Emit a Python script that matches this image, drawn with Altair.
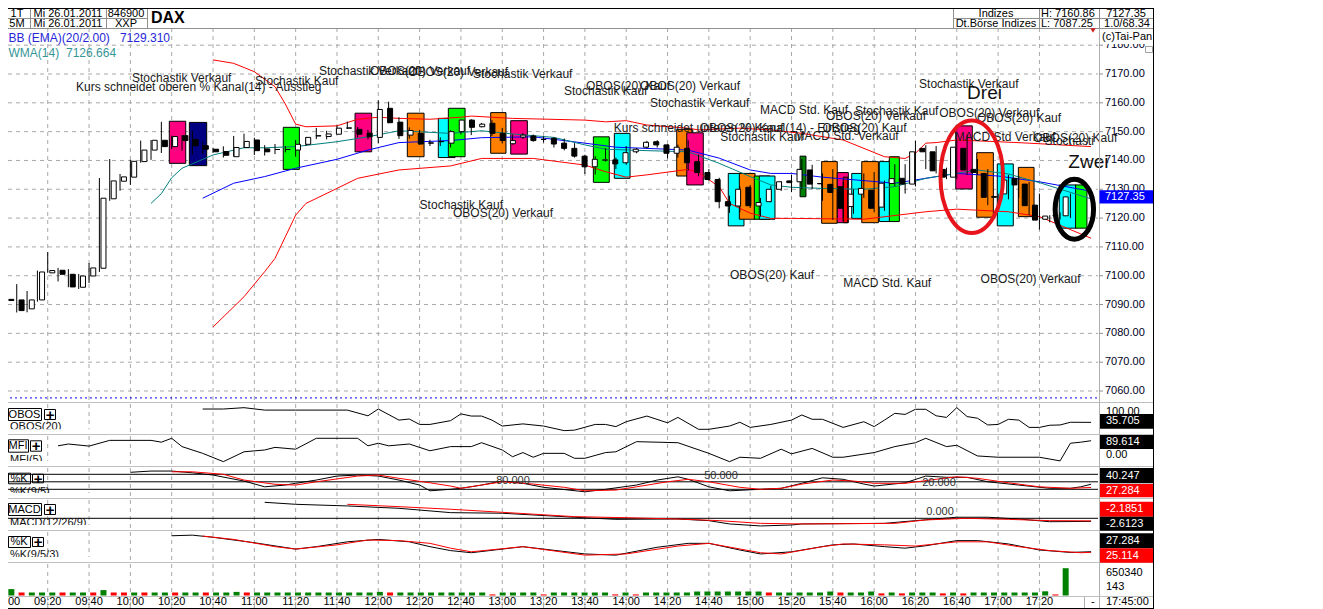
import altair as alt
import pandas as pd

FONT = "Liberation Sans"

# ======================= DATA =======================
# DAX, 5-minute candles, 26.01.2011; bar 0 = 09:00, bar 103 = 17:35
bar_open = [
    7091.8, 7091.6, 7088.5, 7091.6, 7101.0, 7101.9, 7100.5, 7096.0, 7099.9, 7102.6,
    7126.7, 7132.8, 7134.2, 7139.6, 7143.6, 7147.0, 7144.8, 7148.6, 7147.3, 7145.1,
    7143.9, 7143.1, 7141.3, 7144.5, 7147.1, 7144.0, 7143.8, 7143.8, 7143.6, 7145.6,
    7148.5, 7148.3, 7149.1, 7151.2, 7150.8, 7149.5, 7148.0, 7158.1, 7153.3, 7148.8,
    7149.4, 7146.1, 7146.6, 7146.0, 7150.0, 7154.0, 7151.7, 7152.9, 7149.4, 7145.8,
    7148.1, 7148.5, 7147.3, 7147.7, 7146.0, 7144.2, 7141.5, 7137.8, 7140.1, 7140.2,
    7139.2, 7143.0, 7144.6, 7146.5, 7145.4, 7142.5, 7144.2, 7139.6, 7135.8, 7133.4,
    7125.7, 7124.2, 7130.7, 7124.2, 7125.7, 7130.0, 7132.9, 7132.6, 7136.7, 7132.0,
    7131.7, 7130.9, 7124.0, 7128.3, 7129.7, 7123.8, 7132.0, 7133.8, 7131.8, 7144.2,
    7143.0, 7136.9, 7134.2, 7144.2, 7136.9, 7135.5, 7127.2, 7128.4, 7133.8, 7131.8,
    7124.5, 7119.6, 7121.0, 7120.8]
bar_high = [
    7094.4, 7097.1, 7094.7, 7101.8, 7108.2, 7102.7, 7102.3, 7100.6, 7104.4, 7133.9,
    7140.5, 7135.3, 7140.2, 7146.9, 7147.1, 7153.4, 7148.6, 7148.8, 7150.3, 7146.5,
    7144.4, 7144.9, 7148.5, 7149.3, 7147.9, 7145.3, 7145.7, 7145.0, 7147.1, 7148.1,
    7151.3, 7150.3, 7152.1, 7153.5, 7151.6, 7150.6, 7160.86, 7160.4, 7155.0, 7151.5,
    7150.6, 7147.2, 7148.0, 7150.5, 7154.2, 7154.3, 7153.0, 7154.0, 7151.3, 7149.0,
    7149.5, 7149.0, 7148.3, 7148.0, 7147.6, 7146.0, 7142.0, 7141.5, 7144.2, 7141.0,
    7145.0, 7144.3, 7146.8, 7147.0, 7145.6, 7145.5, 7147.0, 7142.0, 7137.0, 7134.0,
    7127.8, 7131.0, 7131.5, 7127.0, 7131.2, 7132.8, 7135.0, 7140.5, 7138.5, 7135.5,
    7137.0, 7132.6, 7130.0, 7135.5, 7136.0, 7133.0, 7138.7, 7138.7, 7146.8, 7145.3,
    7145.0, 7137.5, 7147.0, 7149.0, 7140.5, 7137.0, 7128.5, 7135.0, 7134.6, 7132.5,
    7128.5, 7121.0, 7122.0, 7128.5]
bar_low = [
    7089.2, 7087.25, 7087.3, 7091.0, 7101.0, 7098.0, 7096.0, 7095.4, 7097.5, 7101.3,
    7126.0, 7129.5, 7131.5, 7139.2, 7140.2, 7142.6, 7144.0, 7143.4, 7142.0, 7142.3,
    7142.6, 7141.0, 7141.3, 7144.3, 7141.9, 7141.7, 7142.2, 7142.8, 7141.3, 7145.0,
    7147.4, 7147.3, 7149.1, 7150.9, 7148.0, 7147.3, 7146.0, 7152.9, 7147.5, 7147.6,
    7145.4, 7145.0, 7145.0, 7144.5, 7149.0, 7148.8, 7151.5, 7148.5, 7145.9, 7145.5,
    7147.5, 7146.5, 7146.2, 7144.5, 7143.5, 7141.0, 7135.3, 7135.1, 7139.6, 7137.0,
    7138.5, 7142.5, 7144.2, 7144.5, 7140.7, 7141.0, 7136.5, 7134.5, 7133.0, 7123.4,
    7121.8, 7122.0, 7123.5, 7120.5, 7125.5, 7129.4, 7129.0, 7130.0, 7130.0, 7126.0,
    7119.4, 7119.0, 7121.5, 7127.0, 7122.0, 7122.5, 7131.0, 7128.5, 7131.0, 7137.0,
    7135.5, 7133.5, 7133.5, 7135.0, 7135.0, 7124.5, 7126.0, 7126.5, 7127.0, 7121.0,
    7116.0, 7118.5, 7119.5, 7120.0]
bar_close = [
    7091.4, 7087.9, 7091.6, 7101.3, 7101.8, 7100.5, 7096.1, 7099.9, 7102.7, 7126.9,
    7132.9, 7134.3, 7139.7, 7143.6, 7147.0, 7144.8, 7148.3, 7146.9, 7145.1, 7143.9,
    7143.0, 7141.8, 7144.5, 7146.6, 7143.4, 7143.0, 7143.8, 7143.8, 7145.6, 7148.0,
    7148.6, 7149.2, 7151.2, 7151.3, 7149.1, 7148.2, 7157.7, 7153.1, 7148.6, 7150.4,
    7145.7, 7146.0, 7146.5, 7150.0, 7154.0, 7151.5, 7152.6, 7149.4, 7146.9, 7146.9,
    7148.8, 7146.9, 7147.3, 7145.7, 7144.2, 7141.5, 7137.8, 7140.4, 7140.2, 7138.8,
    7142.7, 7143.9, 7146.3, 7145.4, 7142.5, 7144.6, 7139.2, 7135.8, 7133.4, 7125.7,
    7124.2, 7130.0, 7124.3, 7125.4, 7130.0, 7132.6, 7132.3, 7136.9, 7131.8, 7131.9,
    7128.9, 7123.4, 7128.3, 7130.3, 7123.4, 7132.1, 7133.7, 7131.8, 7143.0, 7143.0,
    7136.4, 7134.2, 7144.6, 7136.7, 7135.8, 7127.2, 7127.5, 7133.2, 7131.5, 7124.3,
    7119.3, 7120.7, 7120.8, 7127.35]
volume = [
    152000, 71500, 71500, 71500, 71500, 71500, 71500, 71500, 71500, 128600,
    71500, 71500, 71500, 71500, 71500, 71500, 71500, 71500, 71500, 71500,
    71500, 71500, 86000, 71500, 71500, 71500, 71500, 71500, 71500, 71500,
    71500, 71500, 71500, 71500, 71500, 71500, 86000, 71500, 71500, 71500,
    71500, 71500, 71500, 71500, 71500, 71500, 71500, 26000, 71500, 71500,
    71500, 71500, 26000, 71500, 71500, 71500, 71500, 71500, 71500, 26000,
    71500, 26000, 71500, 71500, 71500, 71500, 71500, 95000, 95000, 95000,
    95000, 95000, 95000, 95000, 71500, 71500, 71500, 71500, 71500, 71500,
    95000, 71500, 71500, 71500, 95000, 50000, 71500, 50000, 71500, 71500,
    71500, 50000, 71500, 50000, 71500, 71500, 71500, 71500, 71500, 71500,
    71500, 100000, 25000, 650340]
volume_up = [
    1, 0, 1, 1, 1, 0, 1, 1, 0, 1,
    0, 0, 1, 0, 1, 1, 0, 1, 1, 0,
    1, 1, 1, 0, 1, 1, 1, 1, 1, 1,
    1, 1, 1, 1, 1, 1, 1, 0, 1, 1,
    1, 1, 1, 1, 1, 1, 1, 0, 1, 1,
    1, 1, 0, 1, 1, 1, 1, 1, 1, 0,
    1, 0, 1, 1, 1, 1, 1, 1, 1, 1,
    1, 1, 1, 1, 0, 1, 1, 1, 1, 1,
    1, 0, 1, 1, 1, 0, 1, 0, 1, 1,
    1, 0, 1, 0, 1, 1, 1, 1, 1, 1,
    1, 1, 0, 1]

grid_times = ["09:00", "09:20", "09:40", "10:00", "10:20", "10:40", "11:00", "11:20",
              "11:40", "12:00", "12:20", "12:40", "13:00", "13:20", "13:40", "14:00",
              "14:20", "14:40", "15:00", "15:20", "15:40", "16:00", "16:20", "16:40",
              "17:00", "17:20"]
price_ticks = [7060, 7070, 7080, 7090, 7100, 7110, 7120, 7130, 7140, 7150, 7160, 7170, 7180]

# indicator lines: (bar, value)
bb_upper = [(20, 7174.9), (22, 7173.7), (24, 7170.8), (26, 7165.6), (27, 7159.6), (28, 7152.6),
            (29, 7151.7), (32, 7152.0), (34, 7154.3), (36, 7155.0), (38, 7154.6), (41, 7154.3),
            (44, 7155.0), (45, 7155.4), (49, 7154.6), (56, 7154.0), (58, 7153.4), (60, 7153.8),
            (62, 7152.3), (66, 7151.2), (67, 7150.6), (71, 7151.2), (74, 7150.6), (77, 7149.4),
            (81, 7147.1), (85, 7141.3), (87, 7140.7), (88, 7142.5), (89, 7146.0), (90, 7146.2),
            (92, 7147.1), (96, 7146.5), (99, 7146.0), (105, 7144.8)]
bb_lower = [(20, 7082.2), (23, 7092.7), (25, 7101.4), (26, 7106.0), (27, 7113.5), (28, 7121.0),
            (29, 7125.1), (32, 7130.3), (34, 7133.8), (38, 7136.7), (43, 7138.1), (46, 7140.7),
            (51, 7140.7), (56, 7138.4), (58, 7136.1), (60, 7134.2), (62, 7135.0), (66, 7136.9),
            (67, 7135.8), (69, 7130.9), (70, 7125.1), (72, 7121.7), (74, 7119.9), (76, 7119.9),
            (83, 7119.6), (89, 7122.2), (92, 7123.1), (97, 7122.2), (100, 7120.5), (105, 7113.0)]
bb_mid = [(19, 7126.9), (22, 7132.1), (25, 7134.4), (28, 7137.3), (32, 7140.4), (35, 7143.6),
          (38, 7146.2), (43, 7146.9), (46, 7147.9), (51, 7148.2), (56, 7146.0), (59, 7144.6),
          (64, 7143.9), (66, 7143.6), (69, 7140.8), (72, 7136.7), (74, 7135.5), (76, 7135.5),
          (79, 7134.2), (86, 7132.1), (89, 7133.8), (92, 7135.5), (96, 7134.6), (100, 7132.6),
          (105, 7129.31)]
wma14 = [(14, 7125.1), (15, 7128.5), (16, 7134.0), (17, 7137.3), (20, 7141.9), (23, 7144.4),
         (25, 7144.4), (28, 7144.8), (32, 7146.5), (35, 7148.2), (38, 7150.3), (43, 7149.4),
         (46, 7150.3), (49, 7149.2), (53, 7148.0), (56, 7145.4), (58, 7143.9), (62, 7143.4),
         (66, 7143.0), (69, 7139.0), (72, 7134.4), (74, 7131.5), (76, 7130.7), (79, 7130.3),
         (83, 7130.0), (86, 7130.9), (89, 7133.8), (94, 7136.7), (97, 7135.3), (100, 7132.3),
         (105, 7126.664)]
blue_level = 7057.6

obos20 = [(19, 85), (21, 85), (23, 90), (25, 81), (28, 81), (33, 81), (35, 60), (36, 85), (38, 44),
          (39, 48), (40, 28), (41, 28), (43, 42), (44, 67), (45, 59), (46, 59), (47, 44), (48, 22),
          (50, 30), (52, 22), (54, 5), (55, 7), (57, 28), (58, 28), (59, 20), (60, 38), (62, 59),
          (64, 34), (65, 54), (67, 10), (68, 10), (70, 22), (71, 36), (72, 17), (74, 28), (76, 44),
          (77, 63), (78, 47), (79, 47), (81, 17), (83, 38), (84, 20), (85, 44), (86, 69), (87, 65),
          (88, 84), (89, 84), (90, 60), (91, 54), (92, 90), (93, 57), (94, 51), (95, 26), (96, 28),
          (97, 47), (98, 44), (99, 17), (100, 17), (101, 25), (102, 26), (103, 36), (105, 35.705)]
mfi5 = [(5, 70), (6, 77), (8, 69), (10, 91), (14, 91), (15, 84), (16, 99), (17, 67), (19, 41),
        (21, 9), (23, 47), (25, 54), (26, 64), (28, 57), (30, 99), (32, 99), (34, 99), (35, 70),
        (36, 80), (37, 70), (39, 77), (41, 51), (43, 67), (45, 67), (46, 82), (48, 54), (49, 28),
        (50, 44), (51, 26), (52, 41), (54, 41), (55, 22), (56, 22), (58, 44), (59, 47), (61, 86),
        (65, 82), (68, 41), (70, 9), (71, 26), (73, 22), (75, 57), (76, 39), (78, 60), (80, 26),
        (81, 26), (84, 44), (86, 67), (88, 82), (89, 99), (91, 67), (92, 72), (94, 31), (96, 26),
        (100, 26), (102, 12), (103, 80), (104, 84), (105, 89.614)]
k95_fast = [(12, 88), (14, 93), (16, 93), (18, 86), (20, 77), (23, 53), (25, 30), (27, 37), (28, 44),
            (30, 57), (32, 73), (34, 77), (36, 73), (38, 57), (40, 37), (41, 14), (43, 20), (44, 24),
            (46, 37), (48, 53), (50, 44), (52, 28), (56, 10), (58, 20), (61, 37), (63, 57), (65, 70),
            (66, 60), (68, 30), (70, 14), (73, 20), (75, 24), (77, 44), (79, 66), (81, 60), (83, 41),
            (84, 33), (87, 46), (89, 73), (91, 68), (93, 68), (95, 50), (98, 37), (101, 24), (103, 24),
            (104, 30), (105, 40.247)]
k95_slow = [(16, 90), (18, 90), (21, 80), (23, 57), (26, 40), (28, 37), (30, 50), (34, 73), (36, 77),
            (38, 64), (41, 46), (43, 33), (44, 24), (46, 37), (48, 50), (51, 41), (54, 28), (56, 14),
            (59, 17), (61, 30), (64, 50), (66, 60), (68, 50), (71, 28), (73, 20), (75, 24), (77, 41),
            (80, 57), (82, 53), (84, 44), (87, 44), (90, 60), (92, 70), (94, 64), (97, 46), (100, 30),
            (103, 24), (105, 27.284)]
k_levels = [80, 50, 20]
macd_line = [(25, 13.6), (28, 11.9), (33, 10.5), (38, 8.5), (43, 4.8), (48, 4.3), (55, 0.9),
             (59, -0.9), (65, -0.6), (68, -2.0), (70, -4.8), (73, -6.5), (76, -5.7), (77, -4.8),
             (85, -4.3), (88, -2.0), (92, 0.9), (95, 0.9), (98, -0.6), (101, -2.9), (105, -2.6123)]
macd_signal = [(33, 11.9), (38, 9.9), (43, 7.7), (48, 5.1), (55, 1.4), (60, 0.5), (65, -0.6),
               (69, -2.0), (73, -4.3), (77, -4.8), (86, -4.3), (89, -1.4), (93, 0.0), (97, -0.9),
               (101, -2.0), (105, -2.1851)]
macd_zero = 0
k953_fast = [(16, 80), (18, 82), (20, 75), (24, 57), (28, 36), (30, 44), (33, 60), (36, 68), (39, 60),
             (41, 44), (43, 31), (45, 24), (50, 44), (56, 20), (59, 16), (63, 42), (66, 55), (68, 55),
             (71, 33), (73, 20), (76, 27), (80, 50), (82, 53), (85, 44), (87, 39), (89, 47), (92, 64),
             (94, 64), (97, 53), (100, 33), (103, 25), (105, 27.284)]
k953_slow = [(19, 79), (22, 68), (26, 44), (28, 36), (32, 50), (35, 66), (38, 64), (41, 55), (43, 39),
             (45, 27), (50, 44), (56, 16), (60, 20), (65, 46), (68, 55), (73, 24), (75, 20), (79, 44),
             (81, 53), (85, 50), (88, 46), (92, 60), (95, 60), (98, 44), (101, 31), (104, 24),
             (105, 25.114)]

# signal boxes (bar from / to, price top / bottom, colour)
box_x0 = [15.77, 17.71, 26.8, 33.75, 38.81, 41.81, 42.78, 46.88, 48.82, 56.82, 58.85, 64.89, 65.86,
          69.88, 70.95, 72.4, 72.88, 76.83, 78.92, 80.43, 81.01, 81.83, 82.80, 84.50, 85.47, 91.90,
          93.93, 95.92, 97.96, 101.92, 103.5]
box_x1 = [17.36, 19.39, 28.36, 35.36, 40.43, 43.43, 44.40, 48.36, 50.43, 58.36, 60.37, 66.44, 67.46,
          71.40, 72.47, 73.9, 74.40, 77.4, 80.43, 81.50, 81.44, 82.80, 84.41, 85.54, 86.44, 93.50,
          95.54, 97.47, 99.48, 103.54, 104.6]
box_top = [7153.6, 7153.2, 7151.5, 7156.4, 7156.4, 7154.6, 7158.1, 7156.6, 7153.8, 7148.2, 7149.4,
           7150.8, 7149.6, 7135.5, 7135.5, 7134.6, 7134.6, 7141.5, 7139.6, 7135.8, 7134.2, 7135.5,
           7139.6, 7139.6, 7141.3, 7152.0, 7142.7, 7138.8, 7137.6, 7131.5, 7131.5]
box_bottom = [7139.0, 7138.2, 7136.9, 7143.0, 7141.3, 7141.0, 7141.3, 7142.5, 7142.2, 7132.4, 7133.8,
              7134.6, 7131.5, 7117.3, 7119.6, 7119.6, 7119.6, 7127.4, 7118.2, 7118.4, 7118.4, 7119.9,
              7118.4, 7118.8, 7118.8, 7130.1, 7120.3, 7117.3, 7120.5, 7116.5, 7116.5]
box_color = ["#ff0080", "#000080", "#00ff00", "#ff0080", "#ff8000", "#00ffff", "#00ff00", "#ff8000",
             "#ff0080", "#00ff00", "#00ffff", "#ff8000", "#ff0080", "#00ffff", "#ff8000", "#00ff00",
             "#00ffff", "#008000", "#ff8000", "#ff0080", "#ff0000", "#00ffff", "#ff8000", "#00ffff",
             "#00ff00", "#ff0080", "#ff8000", "#00ffff", "#ff8000", "#00ffff", "#00ff00"]

# signal texts (left edge at bar, price)
ann_text = ["Stochastik Verkauf", "Kurs schneidet oberen % Kanal(14) - Ausstieg", "Stochastik Kauf",
            "Stochastik Verkauf", "OBOS(20) Verkauf", "OBOS(20) Verkauf", "Stochastik Verkauf",
            "Stochastik Kauf", "OBOS(20) Kauf", "OBOS(20) Verkauf", "Stochastik Verkauf",
            "Kurs schneidet unteren % Kanal(14) - Einstieg", "OBOS(20) Kauf", "Stochastik Kauf",
            "MACD Std. Kauf", "Stochastik Kauf", "OBOS(20) Verkauf", "OBOS(20) Kauf",
            "MACD Std. Verkauf", "Stochastik Verkauf", "OBOS(20) Verkauf", "OBOS(20) Kauf",
            "MACD Std Verkauf", "OBOS(20) Kauf", "Stochastik Kauf", "OBOS(20) Verkauf",
            "OBOS(20) Kauf", "MACD Std. Kauf", "OBOS(20) Verkauf"]
ann_bar = [12.16, 6.74, 24.07, 30.26, 35.20, 38.88, 45.17, 53.98, 56.11, 61.34, 62.30, 58.8, 67.1,
           69.1, 72.95, 82.15, 79.34, 79.0, 76.3, 88.35, 90.3, 93.96, 91.8, 99.4, 40.0, 43.23,
           70.05, 81.0, 94.3]
ann_price = [7168.6, 7165.5, 7167.6, 7171.0, 7171.0, 7170.7, 7170.0, 7164.1, 7165.8, 7165.8, 7160.0,
             7151.4, 7151.3, 7148.0, 7157.5, 7157.2, 7155.4, 7151.1, 7148.5, 7166.5, 7156.4, 7154.7,
             7148.2, 7147.8, 7124.5, 7121.8, 7100.3, 7097.5, 7098.9]
edge_text, edge_bar, edge_price = ["Stochastik Kauf"], [100.5], [7146.8]
big_text, big_bar, big_price = ["Drei", "Zwei"], [93.0, 102.8], [7163.4, 7139.5]
ell_bar, ell_price = [93.45, 103.38], [7134.37, 7123.09]

# ======================= SCALES (chart pixel space) =======================
XS = alt.Scale(domain=[-0.62, 105.67], range=[0, 1098], nice=False, zero=False)
PX_X = alt.Scale(domain=[0, 1154], range=[0, 1154], nice=False, zero=False)
PX_Y = alt.Scale(domain=[0, 601], range=[0, 601], nice=False, zero=False)
PRICE = alt.Scale(domain=[7060, 7170], range=[383, 66], nice=False, zero=False)
OBOS_S = alt.Scale(domain=[0, 100], range=[424, 396.97], nice=False, zero=False)
MFI_S = alt.Scale(domain=[0, 100], range=[456, 430.03], nice=False, zero=False)
K_S = alt.Scale(domain=[0, 100], range=[486.3, 461.3], nice=False, zero=False)
MACD_S = alt.Scale(domain=[0, 10], range=[510.3, 498.54], nice=False, zero=False)
K3_S = alt.Scale(domain=[0, 100], range=[552, 521.7], nice=False, zero=False)
VOL_S = alt.Scale(domain=[0, 650340], range=[587.5, 560.2], nice=False, zero=False)


def qx(f, s):
    return alt.X(f, type="quantitative", scale=s, axis=None)


def qy(f, s):
    return alt.Y(f, type="quantitative", scale=s, axis=None)


def px_rules(rows, color, width=1, dash=None):
    df = pd.DataFrame(rows, columns=["x1", "x2", "y1", "y2"])
    kw = dict(color=color, strokeWidth=width)
    if dash:
        kw["strokeDash"] = dash
    return alt.Chart(df).mark_rule(**kw).encode(
        x=qx("x1", PX_X), x2="x2", y=qy("y1", PX_Y), y2="y2")


def px_rects(rows, fill, stroke=None, width=1):
    df = pd.DataFrame(rows, columns=["x1", "x2", "y1", "y2"])
    kw = dict(fill=fill, strokeWidth=width)
    if stroke:
        kw["stroke"] = stroke
    return alt.Chart(df).mark_rect(**kw).encode(
        x=qx("x1", PX_X), x2="x2", y=qy("y1", PX_Y), y2="y2")


def px_texts(rows, size=11, align="left", color="black", weight="normal", baseline="middle"):
    df = pd.DataFrame(rows, columns=["x", "y", "t"])
    return alt.Chart(df).mark_text(font=FONT, fontSize=size, align=align, baseline=baseline,
                                   color=color, fontWeight=weight).encode(
        x=qx("x", PX_X), y=qy("y", PX_Y), text="t:N")


def series(pairs, scale, color, width=1):
    df = pd.DataFrame(pairs, columns=["bar", "v"])
    return alt.Chart(df).mark_line(color=color, strokeWidth=width).encode(
        x=qx("bar", XS), y=qy("v", scale))


def level_rule(values, scale, color="black", dash=None):
    df = pd.DataFrame({"v": values})
    kw = dict(color=color, strokeWidth=1)
    if dash:
        kw["strokeDash"] = dash
    return alt.Chart(df).mark_rule(**kw).encode(
        x=alt.value(0), x2=alt.value(1098), y=qy("v", scale))


layers = []
GRID = "#a8a8a8"

# ---- grids ----
pt = pd.DataFrame({"p": price_ticks})
layers.append(alt.Chart(pt).mark_rule(color=GRID, strokeWidth=1, strokeDash=[4, 4]).encode(
    x=alt.value(0), x2=alt.value(1098), y=qy("p", PRICE)))
gt = pd.DataFrame({"bar": [4 * k for k in range(len(grid_times))], "t": grid_times})
layers.append(alt.Chart(gt).mark_rule(color=GRID, strokeWidth=1, strokeDash=[4, 4]).encode(
    x=qx("bar", XS), y=alt.value(20), y2=alt.value(601)))

# ---- signal boxes ----
bx = pd.DataFrame({"x0": box_x0, "x1": box_x1, "top": box_top, "bot": box_bottom, "c": box_color})
layers.append(alt.Chart(bx).mark_rect(stroke="black", strokeWidth=1).encode(
    x=qx("x0", XS), x2="x1", y=qy("top", PRICE), y2="bot", fill=alt.Fill("c:N", scale=None)))

# ---- bands / averages ----
layers.append(series(bb_upper, PRICE, "#ff0000"))
layers.append(series(bb_lower, PRICE, "#ff0000"))
layers.append(series(bb_mid, PRICE, "#0000ff"))
layers.append(series(wma14, PRICE, "#008080"))
layers.append(alt.Chart(pd.DataFrame({"v": [blue_level]})).mark_rule(
    color="#0000ff", strokeWidth=1, strokeDash=[2, 3]).encode(
    x=alt.value(0), x2=alt.value(1098), y=qy("v", PRICE)))

# ---- candles ----
cdf = pd.DataFrame({"bar": list(range(len(bar_open))), "open": bar_open, "high": bar_high,
                    "low": bar_low, "close": bar_close})
cdf["fill"] = ["white" if c > o else "black" for o, c in zip(bar_open, bar_close)]
layers.append(alt.Chart(cdf).mark_rule(color="black", strokeWidth=1).encode(
    x=qx("bar", XS), y=qy("low", PRICE), y2="high"))
layers.append(alt.Chart(cdf).mark_bar(size=5, stroke="black", strokeWidth=1).encode(
    x=qx("bar", XS), y=qy("open", PRICE), y2="close", fill=alt.Fill("fill:N", scale=None)))

# ---- signal texts ----
adf = pd.DataFrame({"bar": ann_bar, "p": ann_price, "t": ann_text})
layers.append(alt.Chart(adf).mark_text(font=FONT, fontSize=12, align="left", baseline="middle",
                                       color="#1a1a1a").encode(
    x=qx("bar", XS), y=qy("p", PRICE), text="t:N"))
edf = pd.DataFrame({"bar": edge_bar, "p": edge_price, "t": edge_text})
layers.append(alt.Chart(edf).mark_text(font=FONT, fontSize=12, align="left", baseline="middle",
                                       color="#1a1a1a", limit=53, ellipsis=" ").encode(
    x=qx("bar", XS), y=qy("p", PRICE), text="t:N"))
bdf = pd.DataFrame({"bar": big_bar, "p": big_price, "t": big_text})
layers.append(alt.Chart(bdf).mark_text(font=FONT, fontSize=19, align="left", baseline="middle",
                                       color="#111111").encode(
    x=qx("bar", XS), y=qy("p", PRICE), text="t:N"))

# ---- ellipses ----
layers.append(alt.Chart(pd.DataFrame({"bar": [ell_bar[0]], "p": [ell_price[0]]})).mark_point(
    shape="M -0.556 0 A 0.556 1 0 1 1 0.556 0 A 0.556 1 0 1 1 -0.556 0 Z",
    size=12679, filled=False, color="#e8141c", strokeWidth=4, opacity=1).encode(
    x=qx("bar", XS), y=qy("p", PRICE)))
layers.append(alt.Chart(pd.DataFrame({"bar": [ell_bar[1]], "p": [ell_price[1]]})).mark_point(
    shape="M -0.64 0 A 0.64 1 0 1 1 0.64 0 A 0.64 1 0 1 1 -0.64 0 Z",
    size=3600, filled=False, color="black", strokeWidth=5, opacity=1).encode(
    x=qx("bar", XS), y=qy("p", PRICE)))

# ---- header ----
layers.append(px_rules([(0, 1154, 20.5, 20.5), (0, 147, 10.5, 10.5), (953, 1154, 10.5, 10.5),
                        (30.5, 30.5, 0, 20.5), (106.5, 106.5, 0, 20.5), (147.5, 147.5, 0, 20.5),
                        (953.5, 953.5, 0, 20.5), (1039.5, 1039.5, 0, 20.5),
                        (1099.5, 1099.5, 0, 20.5)], "#909090"))
layers.append(px_texts([(17, 5.5, "1T"), (17, 15.5, "5M"), (68, 5.5, "Mi 26.01.2011"),
                        (68, 15.5, "Mi 26.01.2011"), (126, 5.5, "846900"), (126, 15.5, "XXP"),
                        (996, 5.5, "Indizes"), (996, 15.5, "Dt.Börse Indizes"),
                        (1126, 5.5, f"{bar_close[-1]:.2f}"), (1127, 15.5, "1.0/68.34")],
                       size=11, align="center"))
layers.append(px_texts([(1041, 5.5, f"H: {max(bar_high):.2f}"),
                        (1041, 15.5, f"L: {min(bar_low):.2f}")], size=11))
layers.append(px_texts([(151, 9.5, "DAX")], size=16, weight="bold"))
layers.append(px_texts([(8.5, 30, "BB (EMA)(20/2.00)")], size=12, color="#2626d8"))
layers.append(px_texts([(170, 30, f"{bb_mid[-1][1]:.3f}")], size=12, align="right", color="#2626d8"))
layers.append(px_texts([(8.5, 45, "WMA(14)"), (66, 45, f"{wma14[-1][1]:.3f}")], size=12,
                       color="#359696"))

# ---- sub-panel captions ----
caps = [("OBOS", 8, 41, 400, 412, 44, 55, "OBOS(20)", 413, 421.3, 426),
        ("MFI", 8, 28, 431.3, 443.7, 30, 41, "MFI(5)", 445.5, 453, 458),
        ("%K", 8, 30, 464.7, 475.3, 32, 43, "%K(9/5)", 477.5, 485, 490),
        ("MACD", 8, 41, 495, 507, 44, 55, "MACD(12/26/9)", 508.5, 517, 522),
        ("%K", 8, 30, 528, 539, 32, 43, "%K(9/5/3)", 540.5, 549, 554)]
layers.append(px_texts([(10, c[8], c[7]) for c in caps], size=11, baseline="top", color="#111111"))
layers.append(px_rects([(0.5, 110, c[9], c[10]) for c in caps], "white"))
layers.append(px_rects([(c[1] + 0.5, c[2] + 0.5, c[3] + 0.5, c[4] + 0.5) for c in caps], "white",
                       stroke="black"))
layers.append(px_rects([(c[5] + 0.5, c[6] + 0.5, c[3] + 1.5, c[4] - 0.5) for c in caps], "white",
                       stroke="black"))
layers.append(px_texts([((c[1] + c[2]) / 2, (c[3] + c[4]) / 2 + 0.5, c[0]) for c in caps], size=11,
                       align="center"))
layers.append(px_texts([((c[5] + c[6]) / 2 + 0.5, (c[3] + c[4]) / 2 + 0.5, "+") for c in caps],
                       size=15, align="center", weight="bold"))

# ---- separators ----
layers.append(px_rules([(0, 1154, y, y) for y in [394.5, 426.5, 458.5, 490.5, 522.5, 554.5, 588.5]],
                       "#c0c0c0"))

# ---- sub-panel indicators ----
layers.append(series(obos20, OBOS_S, "black"))
layers.append(series(mfi5, MFI_S, "black"))
layers.append(level_rule(k_levels, K_S))
layers.append(series(k95_fast, K_S, "black"))
layers.append(series(k95_slow, K_S, "#ff0000"))
layers.append(level_rule([macd_zero], MACD_S))
layers.append(series(macd_line, MACD_S, "black"))
layers.append(series(macd_signal, MACD_S, "#ff0000"))
layers.append(series(k953_fast, K3_S, "black"))
layers.append(series(k953_slow, K3_S, "#ff0000"))
layers.append(px_texts([(513, 473, f"{k_levels[0]:.3f}"), (721, 468, f"{k_levels[1]:.3f}"),
                        (939, 475, f"{k_levels[2]:.3f}"), (940, 504, f"{macd_zero:.3f}")],
                       size=11, align="center", color="#333333"))

# ---- volume ----
vdf = pd.DataFrame({"bar": list(range(len(volume))), "vol": volume, "zero": 0,
                    "c": ["#008000" if u else "#ff0000" for u in volume_up]})
layers.append(alt.Chart(vdf).mark_bar(size=6).encode(
    x=qx("bar", XS), y=qy("vol", VOL_S), y2="zero", fill=alt.Fill("c:N", scale=None)))

# ---- right hand price column ----
layers.append(px_rules([(1099.5, 1099.5, 20.5, 601), (1084.5, 1084.5, 588.5, 601)], "#b0b0b0"))
ptl = pd.DataFrame({"p": price_ticks, "t": [f"{p:.2f}" for p in price_ticks]})
layers.append(alt.Chart(ptl).mark_rule(color="#909090", strokeWidth=1).encode(
    x=alt.value(1099), x2=alt.value(1103), y=qy("p", PRICE)))
layers.append(alt.Chart(ptl).mark_text(font=FONT, fontSize=11, align="left", baseline="middle",
                                       color="#000022").encode(
    x=alt.value(1105), y=qy("p", PRICE), text="t:N"))
layers.append(px_rects([(1100, 1153, 21, 36)], "white"))
layers.append(px_texts([(1102, 29, "(c)Tai-Pan")], size=11))
layers.append(px_rects([(1145.5, 1152.5, 38.5, 44.5)], "white", stroke="#a0a0a0"))
layers.append(alt.Chart(pd.DataFrame({"x": [1093], "y": [22.5]})).mark_point(
    shape="triangle-down", size=30, filled=True, color="#d02020", opacity=1).encode(
    x=qx("x", PX_X), y=qy("y", PX_Y)))
last = bar_close[-1]
cur = pd.DataFrame({"p": [last], "p1": [last + 2.3], "p2": [last - 2.3], "t": [f"{last:.2f}"]})
layers.append(alt.Chart(cur).mark_rect(fill="#0000ff").encode(
    x=alt.value(1099.5), x2=alt.value(1153), y=qy("p1", PRICE), y2="p2"))
layers.append(alt.Chart(cur).mark_text(font=FONT, fontSize=11, align="left", baseline="middle",
                                       color="white").encode(
    x=alt.value(1105), y=qy("p", PRICE), text="t:N"))

# plain labels and value boxes of the sub-panels
layers.append(px_texts([(1106, 404, "100.00"), (1106, 447, "0.00"),
                        (1106, 565, f"{volume[-1]}"), (1106, 579, "143"),
                        (1106, 594, "17:45:00"), (1091, 594, "-")], size=11))
rbox = [(406, 420.7, "black", f"{obos20[-1][1]:.3f}"), (427, 441, "black", f"{mfi5[-1][1]:.3f}"),
        (460, 475.3, "black", f"{k95_fast[-1][1]:.3f}"), (476, 489.3, "#ff0000", f"{k95_slow[-1][1]:.3f}"),
        (493.7, 508.7, "#ff0000", f"{macd_signal[-1][1]:.4f}"),
        (508.7, 522.7, "black", f"{macd_line[-1][1]:.4f}"),
        (525.3, 540.3, "black", f"{k953_fast[-1][1]:.3f}"),
        (540.3, 554.7, "#ff0000", f"{k953_slow[-1][1]:.3f}")]
rdf = pd.DataFrame({"x1": 1100, "x2": 1153, "y1": [r[0] for r in rbox], "y2": [r[1] for r in rbox],
                    "c": [r[2] for r in rbox], "t": [r[3] for r in rbox],
                    "ym": [(r[0] + r[1]) / 2 for r in rbox]})
layers.append(alt.Chart(rdf).mark_rect().encode(
    x=qx("x1", PX_X), x2="x2", y=qy("y1", PX_Y), y2="y2", fill=alt.Fill("c:N", scale=None)))
layers.append(alt.Chart(rdf).mark_text(font=FONT, fontSize=11, align="left", baseline="middle",
                                       color="white", dx=6).encode(
    x=qx("x1", PX_X), y=qy("ym", PX_Y), text="t:N"))

# ---- time axis ----
layers.append(alt.Chart(gt).mark_text(font=FONT, fontSize=11, align="center", baseline="middle",
                                      color="black").encode(
    x=qx("bar", XS), y=alt.value(594), text="t:N"))
layers.append(alt.Chart(gt).mark_rule(color=GRID, strokeWidth=1, strokeDash=[3, 2]).encode(
    x=qx("bar", XS), y=alt.value(589), y2=alt.value(600)))

# ---- outer frame ----
layers.append(px_rules([(0, 1154, 0.5, 0.5), (0, 1154, 600.5, 600.5), (1153.5, 1153.5, 0, 601),
                        (0.5, 0.5, 0, 601)], "black"))

chart = alt.layer(*layers).resolve_scale(x="independent", y="independent").properties(
    width=1154, height=601,
    autosize=alt.AutoSizeParams(type="none"),
    padding={"left": -8, "top": 0, "right": 0, "bottom": 0},
    background="white",
).configure_view(stroke=None)

chart.save("out.html", embed_options={"renderer": "svg", "actions": False})
